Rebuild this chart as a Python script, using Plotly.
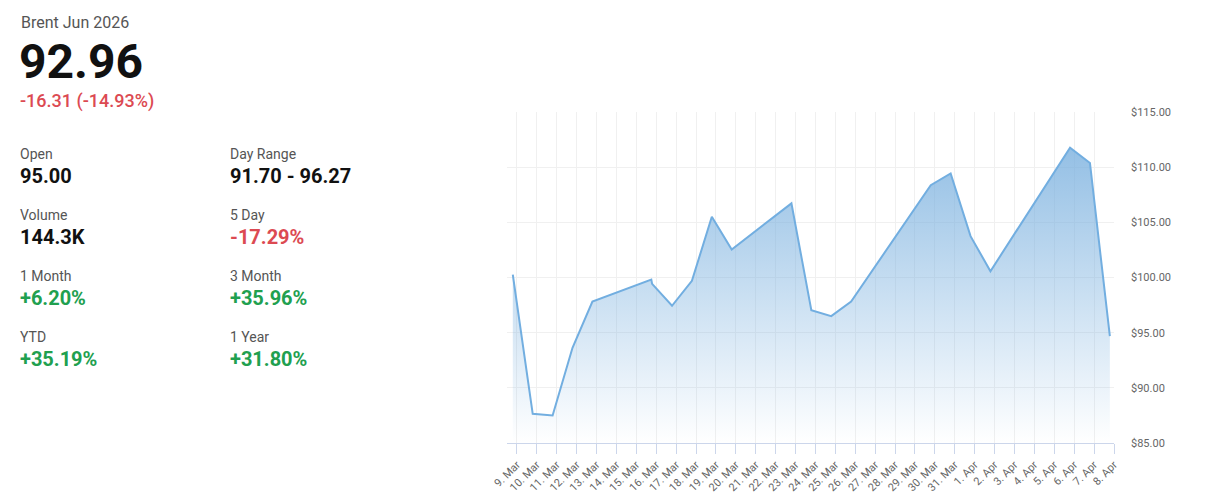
import plotly.graph_objects as go

# ---- data ----
dates = ["2026-03-08 19:00", "2026-03-09 19:00", "2026-03-10 19:00", "2026-03-11 19:00",
         "2026-03-12 19:00", "2026-03-15 18:00", "2026-03-15 19:00", "2026-03-16 19:00",
         "2026-03-17 19:00", "2026-03-18 19:00", "2026-03-19 19:00", "2026-03-22 19:00",
         "2026-03-23 19:00", "2026-03-24 19:00", "2026-03-25 19:00", "2026-03-29 19:00",
         "2026-03-30 19:00", "2026-03-31 19:00", "2026-04-01 19:00", "2026-04-05 19:00",
         "2026-04-06 19:00", "2026-04-07 19:00"]
prices = [100.27, 87.64, 87.49, 93.63, 97.82, 99.82, 99.42, 97.44, 99.70, 105.50, 102.54,
          106.72, 97.04, 96.50, 97.82, 108.37, 109.43, 103.75, 100.57, 111.76, 110.38, 94.68]

y_ticks = [85, 90, 95, 100, 105, 110, 115]
y_tick_labels = ["$85.00", "$90.00", "$95.00", "$100.00", "$105.00", "$110.00", "$115.00"]

title = "Brent Jun 2026"
last_price = "92.96"
change_text = "-16.31 (-14.93%)"
stat_labels = ["Open", "Day Range", "Volume", "5 Day", "1 Month", "3 Month", "YTD", "1 Year"]
stat_values = ["95.00", "91.70 - 96.27", "144.3K", "-17.29%", "+6.20%", "+35.96%", "+35.19%", "+31.80%"]

# page body has an 8px default margin; work in page pixels and convert
OFF = 8
W, H = 1205 - OFF, 497 - OFF
L, R, T, B = 507 - OFF, 1114 - OFF, 112 - OFF, 443 - OFF

RED = "#dc4a52"
GREEN = "#21a04f"
FONT = "Roboto"


def px(xp):
    return (xp - OFF - L) / (R - L)


def py(yp):
    return (B - (yp - OFF)) / (B - T)


def value_color(v):
    if v.startswith("+"):
        return GREEN
    if v.startswith("-") and v.endswith("%"):
        return RED
    return "#111111"


fig = go.Figure()
fig.add_trace(go.Scatter(
    x=dates, y=prices, mode="lines",
    line=dict(color="#72aee0", width=2),
    fill="tozeroy",
    fillgradient=dict(type="vertical", start=85, stop=112,
                      colorscale=[[0, "rgba(120,175,222,0.0)"], [1, "rgba(120,175,222,0.8)"]]),
    hoverinfo="skip",
))

annotations = []
annotations.append(dict(text=title, x=px(19), y=py(23), xref="paper", yref="paper",
                        xanchor="left", yanchor="middle", showarrow=False,
                        font=dict(family=FONT, size=16, color="#555555")))
annotations.append(dict(text="<b>" + last_price + "</b>", x=px(17), y=py(62), xref="paper", yref="paper",
                        xanchor="left", yanchor="middle", showarrow=False,
                        font=dict(family=FONT, size=48, color="#111111")))
annotations.append(dict(text=change_text, x=px(18), y=py(101), xref="paper", yref="paper",
                        xanchor="left", yanchor="middle", showarrow=False,
                        font=dict(family=FONT, size=18, color=RED, weight=500)))

row_y = [154, 215, 276, 337]
col_x = [19, 229]
for i, (lab, val) in enumerate(zip(stat_labels, stat_values)):
    r, c = divmod(i, 2)
    annotations.append(dict(text=lab, x=px(col_x[c] - 1), y=py(row_y[r]), xref="paper", yref="paper",
                            xanchor="left", yanchor="middle", showarrow=False,
                            font=dict(family=FONT, size=14, color="#555555")))
    annotations.append(dict(text="<b>" + val + "</b>", x=px(col_x[c] - 1), y=py(row_y[r] + 22),
                            xref="paper", yref="paper",
                            xanchor="left", yanchor="middle", showarrow=False,
                            font=dict(family=FONT, size=20, color=value_color(val))))

fig.update_layout(
    width=W, height=H,
    margin=dict(l=L, r=W - R, t=T, b=H - B, pad=0, autoexpand=False),
    paper_bgcolor="white", plot_bgcolor="white",
    showlegend=False,
    hovermode=False,
    annotations=annotations,
    font=dict(family=FONT),
    xaxis=dict(
        type="date",
        range=["2026-03-08 12:00", "2026-04-08 00:00"],
        tick0="2026-03-09", dtick=86400000,
        tickformat="%-d. %b",
        tickangle=-45,
        tickfont=dict(family=FONT, size=11, color="#666666"),
        showgrid=True, gridcolor="#f0f0f0", gridwidth=1,
        showline=True, linecolor="#ccd6eb", linewidth=1,
        ticks="outside", ticklen=10, tickcolor="#ccd6eb", tickwidth=1,
        zeroline=False, fixedrange=True,
    ),
    yaxis=dict(
        side="right",
        range=[85, 115],
        tickmode="array",
        tickvals=y_ticks,
        ticktext=y_tick_labels,
        tickfont=dict(family=FONT, size=11, color="#666666"),
        ticklabelstandoff=16,
        showgrid=True, gridcolor="#f0f0f0", gridwidth=1,
        showline=False, zeroline=False, ticks="", fixedrange=True,
    ),
)

fig.write_html("out.html", config={"displayModeBar": False})
